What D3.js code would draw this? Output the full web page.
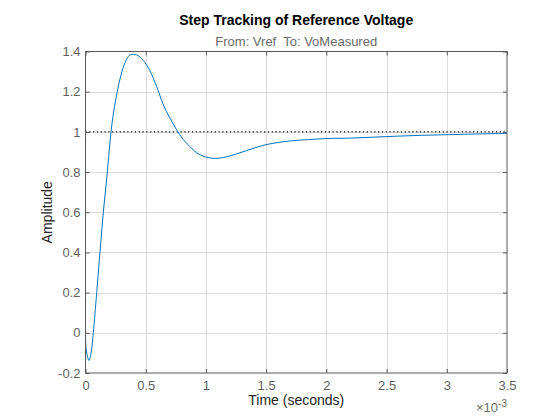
<!DOCTYPE html>
<html>
<head>
<meta charset="UTF-8">
<title>Step Tracking of Reference Voltage</title>
<script src="https://cdn.jsdelivr.net/npm/d3@7"></script>
<style>
body { margin: 0; background: #fff; }
svg { display: block; font-family: "Liberation Sans", Arial, sans-serif; }
.tick text { fill: #5f5f5f; font-size: 13px; }
.grid line { stroke: #dcdcdc; stroke-width: 1px; }
.frame { fill: none; stroke: #5a5a5a; stroke-width: 1px; }
</style>
</head>
<body>
<svg id="chart" width="560" height="420"></svg>
<script>
// time in units of 1e-3 s
var timeMs = [0, 0.004, 0.015, 0.029, 0.046, 0.065, 0.093, 0.12, 0.148, 0.181, 0.212, 0.234, 0.264, 0.286, 0.314, 0.342,
  0.37, 0.397, 0.425, 0.453, 0.48, 0.508, 0.536, 0.563, 0.591, 0.613, 0.646, 0.702, 0.757, 0.812, 0.868, 0.923,
  0.992, 1.075, 1.172, 1.283, 1.394, 1.49, 1.643, 1.781, 1.92, 2.0, 2.2, 2.4, 2.6, 2.8, 3.0, 3.2, 3.5];
var amplitude = [0, -0.073, -0.115, -0.138, -0.1, 0, 0.2, 0.4, 0.6, 0.8, 1.0, 1.1, 1.2, 1.262, 1.322, 1.362,
  1.383, 1.386, 1.383, 1.373, 1.356, 1.333, 1.303, 1.267, 1.225, 1.19, 1.134, 1.068, 1.01, 0.962, 0.926, 0.896,
  0.876, 0.868, 0.876, 0.896, 0.918, 0.935, 0.951, 0.959, 0.964, 0.967, 0.969, 0.974, 0.979, 0.983, 0.986, 0.989, 0.992];
var reference = 1;
var xTicks = [0, 0.5, 1, 1.5, 2, 2.5, 3, 3.5];
var yTicks = [-0.2, 0, 0.2, 0.4, 0.6, 0.8, 1, 1.2, 1.4];

var pl = 85.5, pr = 507, pt = 51.5, pb = 373;
var svg = d3.select("#chart");
var x = d3.scaleLinear().domain([0, 3.5]).range([pl, pr]);
var y = d3.scaleLinear().domain([-0.2, 1.4]).range([pb, pt]);
var data = timeMs.map(function(t, i){ return {t: t, v: amplitude[i]}; });

// grid
var grid = svg.append("g").attr("class", "grid");
grid.selectAll(".gx").data(xTicks.slice(1, -1)).enter().append("line")
  .attr("x1", function(d){ return Math.round(x(d)) + 0.5; })
  .attr("x2", function(d){ return Math.round(x(d)) + 0.5; })
  .attr("y1", pt).attr("y2", pb);
grid.selectAll(".gy").data(yTicks.slice(1, -1)).enter().append("line")
  .attr("y1", function(d){ return Math.round(y(d)) + 0.5; })
  .attr("y2", function(d){ return Math.round(y(d)) + 0.5; })
  .attr("x1", pl).attr("x2", pr);

// reference line
svg.append("line")
  .attr("x1", pl).attr("x2", pr)
  .attr("y1", y(reference)).attr("y2", y(reference))
  .attr("stroke", "#000").attr("stroke-width", 1.2)
  .attr("stroke-dasharray", "1.2,2.6");

// response
svg.append("path")
  .datum(data)
  .attr("fill", "none")
  .attr("stroke", "#0072bd")
  .attr("stroke-width", 1)
  .attr("d", d3.line().curve(d3.curveCatmullRom.alpha(0.5))
    .x(function(d){ return x(d.t); })
    .y(function(d){ return y(d.v); }));

// axes (ticks inward)
var fmt = function(d){ return d3.format("")(d).replace("−", "-"); };
var tickStyle = function(g){ g.select(".domain").remove(); g.selectAll("line").attr("stroke", "#5a5a5a"); };
svg.append("g").attr("transform", "translate(0," + pb + ")")
  .call(d3.axisBottom(x).tickValues(xTicks).tickSizeInner(-4).tickSizeOuter(0).tickPadding(8).tickFormat(fmt))
  .call(tickStyle);
svg.append("g").attr("transform", "translate(0," + pt + ")")
  .call(d3.axisTop(x).tickValues(xTicks).tickSizeInner(-4).tickSizeOuter(0).tickFormat(""))
  .call(tickStyle);
svg.append("g").attr("transform", "translate(" + pl + ",0)")
  .call(d3.axisLeft(y).tickValues(yTicks).tickSizeInner(-4).tickSizeOuter(0).tickPadding(5).tickFormat(fmt))
  .call(tickStyle);
svg.append("g").attr("transform", "translate(" + pr + ",0)")
  .call(d3.axisRight(y).tickValues(yTicks).tickSizeInner(-4).tickSizeOuter(0).tickFormat(""))
  .call(tickStyle);

svg.append("rect").attr("class", "frame")
  .attr("x", pl).attr("y", pt).attr("width", pr - pl).attr("height", pb - pt);

// texts
var cx = (pl + pr) / 2;
svg.append("text").attr("x", cx).attr("y", 25).attr("text-anchor", "middle")
  .attr("font-size", "14px").attr("font-weight", "bold").attr("fill", "#000")
  .text("Step Tracking of Reference Voltage");
svg.append("text").attr("x", cx).attr("y", 46).attr("text-anchor", "middle")
  .attr("font-size", "13px").attr("fill", "#6a6a6a").style("white-space", "pre")
  .text("From: Vref  To: VoMeasured");
svg.append("text").attr("x", cx).attr("y", 405).attr("text-anchor", "middle")
  .attr("font-size", "14px").attr("fill", "#262626")
  .text("Time (seconds)");
svg.append("text").attr("transform", "translate(52," + ((pt + pb) / 2) + ") rotate(-90)")
  .attr("text-anchor", "middle").attr("font-size", "14px").attr("fill", "#262626")
  .text("Amplitude");
var exp = svg.append("text").attr("x", pr).attr("y", 412).attr("text-anchor", "end")
  .attr("font-size", "13px").attr("fill", "#6a6a6a");
exp.append("tspan").text("×10");
exp.append("tspan").attr("dy", -5).attr("font-size", "10px").text("-3");
</script>
</body>
</html>
